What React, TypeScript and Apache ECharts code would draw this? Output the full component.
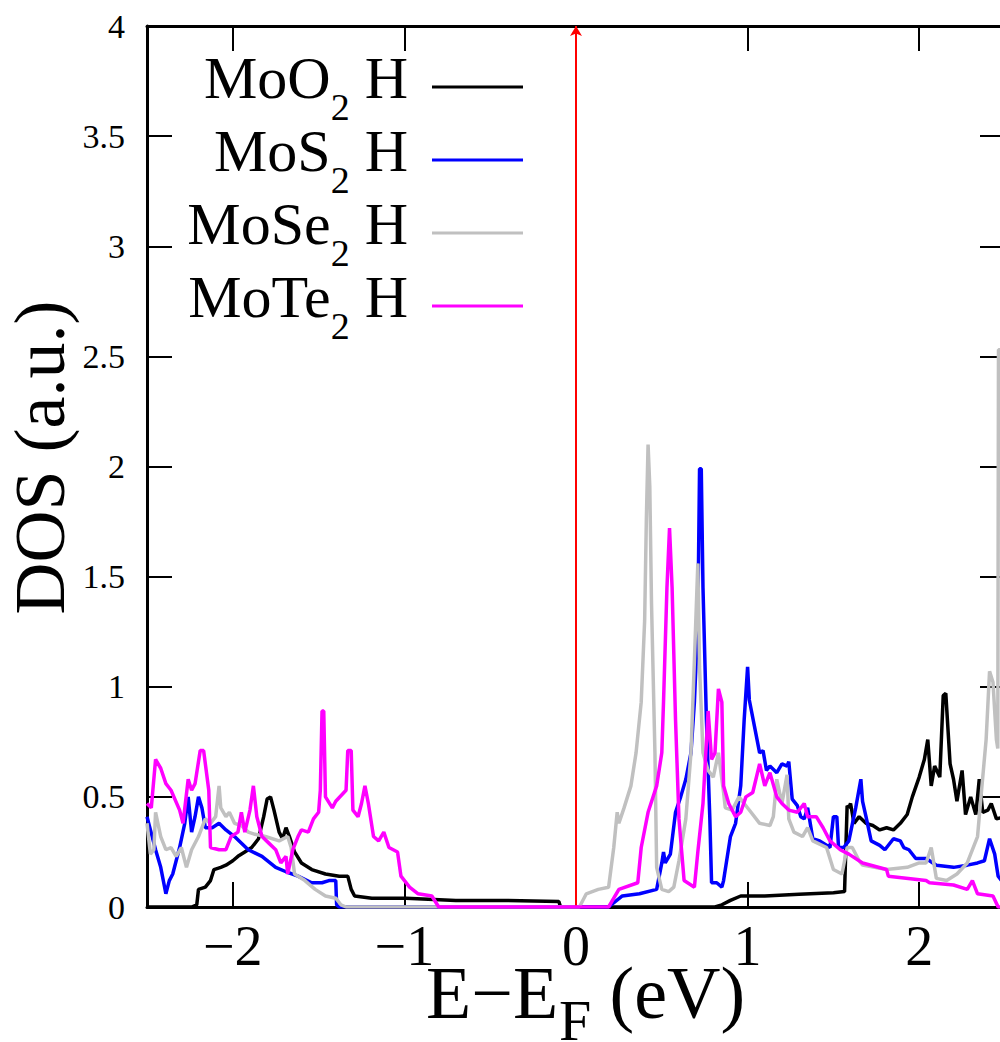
import React, { useEffect, useRef } from 'react';
import * as echarts from 'echarts';

// ---------- data ----------
const seriesNames = ['MoO2 H', 'MoS2 H', 'MoSe2 H', 'MoTe2 H'];
const legendParts = [
  ['MoO', '2', ' H'],
  ['MoS', '2', ' H'],
  ['MoSe', '2', ' H'],
  ['MoTe', '2', ' H'],
];
const seriesColors = ['#000000', '#0000ff', '#c0c0c0', '#ff00ff'];
const xTitleParts = ['E\u2212E', 'F', ' (eV)'];
const yTitle = 'DOS (a.u.)';

const xMin = -2.5;
const xMax = 2.5;
const yMin = 0;
const yMax = 4;
const yStep = 0.5;
const fermiLevel = 0;

const moO2 = [
  [-2.5, 0], [-2.24, 0], [-2.21, 0.01], [-2.2, 0.08], [-2.16, 0.09], [-2.13, 0.12], [-2.11, 0.17],
  [-2.07, 0.18], [-2.04, 0.19], [-2.0, 0.21], [-1.97, 0.23], [-1.93, 0.25], [-1.89, 0.27],
  [-1.85, 0.31], [-1.82, 0.41], [-1.8, 0.49], [-1.78, 0.5], [-1.76, 0.44], [-1.73, 0.34],
  [-1.71, 0.31], [-1.69, 0.36], [-1.67, 0.32], [-1.64, 0.25], [-1.6, 0.2], [-1.54, 0.17],
  [-1.46, 0.15], [-1.38, 0.14], [-1.33, 0.14], [-1.31, 0.08], [-1.29, 0.05], [-1.19, 0.04],
  [-0.99, 0.04], [-0.7, 0.03], [-0.4, 0.03], [-0.1, 0.025], [-0.09, 0], [0.81, 0], [0.85, 0.01],
  [0.9, 0.03], [0.96, 0.05], [1.1, 0.05], [1.3, 0.058], [1.5, 0.065], [1.565, 0.07], [1.58, 0.46],
  [1.59, 0.45], [1.6, 0.47], [1.62, 0.38], [1.65, 0.41], [1.69, 0.38], [1.73, 0.37], [1.77, 0.35],
  [1.81, 0.36], [1.85, 0.35], [1.89, 0.38], [1.93, 0.42], [1.96, 0.5], [2.0, 0.59], [2.03, 0.67],
  [2.05, 0.76], [2.07, 0.55], [2.09, 0.64], [2.12, 0.59], [2.14, 0.96], [2.155, 0.97], [2.18, 0.65],
  [2.2, 0.58], [2.22, 0.48], [2.25, 0.62], [2.27, 0.42], [2.3, 0.5], [2.33, 0.42], [2.35, 0.58],
  [2.37, 0.43], [2.4, 0.44], [2.42, 0.47], [2.45, 0.4], [2.5, 0.41],
];

const moS2 = [
  [-2.5, 0.41], [-2.48, 0.35], [-2.45, 0.26], [-2.42, 0.18], [-2.39, 0.06], [-2.37, 0.12],
  [-2.35, 0.15], [-2.31, 0.27], [-2.28, 0.38], [-2.26, 0.5], [-2.24, 0.34], [-2.22, 0.41],
  [-2.2, 0.5], [-2.18, 0.45], [-2.16, 0.36], [-2.12, 0.36], [-2.08, 0.38], [-2.04, 0.35],
  [-1.99, 0.32], [-1.91, 0.26], [-1.83, 0.23], [-1.75, 0.18], [-1.69, 0.16], [-1.62, 0.14],
  [-1.54, 0.11], [-1.48, 0.11], [-1.44, 0.12], [-1.4, 0.12], [-1.395, 0.01], [-1.38, 0],
  [0.19, 0], [0.27, 0.05], [0.37, 0.06], [0.47, 0.08], [0.5, 0.2], [0.51, 0.25], [0.52, 0.2],
  [0.55, 0.24], [0.58, 0.43], [0.61, 0.5], [0.64, 0.58], [0.67, 0.7], [0.69, 0.93], [0.71, 1.3],
  [0.72, 1.99], [0.73, 1.99], [0.74, 1.45], [0.76, 0.85], [0.78, 0.4], [0.79, 0.11], [0.82, 0.11],
  [0.85, 0.09], [0.86, 0.12], [0.9, 0.32], [0.93, 0.38], [0.96, 0.55], [0.98, 0.85], [1.0, 1.09],
  [1.01, 0.94], [1.04, 0.82], [1.07, 0.7], [1.09, 0.71], [1.11, 0.62], [1.13, 0.64], [1.17, 0.61],
  [1.2, 0.65], [1.23, 0.64], [1.24, 0.66], [1.26, 0.49], [1.29, 0.46], [1.31, 0.41], [1.33, 0.4],
  [1.35, 0.45], [1.38, 0.31], [1.42, 0.3], [1.46, 0.28], [1.48, 0.27], [1.5, 0.41], [1.52, 0.41],
  [1.53, 0.27], [1.56, 0.27], [1.59, 0.3], [1.63, 0.45], [1.66, 0.58], [1.67, 0.48], [1.69, 0.41],
  [1.72, 0.3], [1.77, 0.28], [1.8, 0.26], [1.85, 0.31], [1.89, 0.3], [1.91, 0.27], [1.94, 0.26],
  [1.98, 0.22], [2.04, 0.22], [2.1, 0.19], [2.2, 0.18], [2.28, 0.19], [2.34, 0.2], [2.38, 0.21],
  [2.41, 0.31], [2.44, 0.24], [2.46, 0.14], [2.5, 0.1],
];

const moSe2 = [
  [-2.5, 0.38], [-2.48, 0.24], [-2.46, 0.26], [-2.45, 0.43], [-2.42, 0.32], [-2.39, 0.26],
  [-2.36, 0.27], [-2.33, 0.23], [-2.3, 0.27], [-2.27, 0.18], [-2.24, 0.26], [-2.2, 0.32],
  [-2.16, 0.4], [-2.13, 0.38], [-2.1, 0.41], [-2.08, 0.55], [-2.07, 0.45], [-2.04, 0.41],
  [-2.02, 0.43], [-1.99, 0.38], [-1.95, 0.37], [-1.91, 0.34], [-1.87, 0.33], [-1.81, 0.32],
  [-1.73, 0.3], [-1.68, 0.32], [-1.66, 0.27], [-1.64, 0.15], [-1.58, 0.12], [-1.52, 0.08],
  [-1.46, 0.05], [-1.4, 0.04], [-1.37, 0.01], [-1.34, 0], [0.02, 0], [0.06, 0.06], [0.13, 0.08],
  [0.19, 0.09], [0.22, 0.27], [0.24, 0.43], [0.25, 0.38], [0.28, 0.45], [0.32, 0.55], [0.35, 0.7],
  [0.38, 0.93], [0.4, 1.3], [0.41, 1.76], [0.42, 2.1], [0.43, 1.91], [0.44, 1.38], [0.46, 0.7],
  [0.47, 0.18], [0.5, 0.08], [0.54, 0.07], [0.57, 0.09], [0.6, 0.21], [0.64, 0.4], [0.67, 0.7],
  [0.69, 1.12], [0.71, 1.56], [0.72, 1.09], [0.74, 0.7], [0.77, 0.62], [0.8, 0.59], [0.83, 0.7],
  [0.86, 0.52], [0.87, 0.45], [0.91, 0.44], [0.95, 0.5], [0.98, 0.47], [1.02, 0.43], [1.07, 0.38],
  [1.13, 0.37], [1.15, 0.41], [1.17, 0.58], [1.2, 0.47], [1.23, 0.6], [1.24, 0.4], [1.27, 0.34],
  [1.32, 0.32], [1.35, 0.36], [1.38, 0.3], [1.46, 0.27], [1.5, 0.17], [1.55, 0.15], [1.58, 0.27],
  [1.61, 0.27], [1.65, 0.21], [1.67, 0.19], [1.81, 0.17], [1.93, 0.18], [2.0, 0.2], [2.04, 0.2],
  [2.07, 0.27], [2.1, 0.13], [2.16, 0.12], [2.22, 0.15], [2.28, 0.2], [2.34, 0.32], [2.36, 0.5],
  [2.39, 0.76], [2.41, 1.07], [2.43, 1.02], [2.45, 0.76], [2.458, 0.72], [2.462, 2.53], [2.48, 2.53],
];

const moTe2 = [
  [-2.5, 0.47], [-2.475, 0.45], [-2.45, 0.67], [-2.42, 0.63], [-2.39, 0.56], [-2.36, 0.53],
  [-2.31, 0.44], [-2.29, 0.38], [-2.26, 0.58], [-2.24, 0.53], [-2.22, 0.56], [-2.19, 0.71],
  [-2.17, 0.71], [-2.14, 0.53], [-2.13, 0.27], [-2.08, 0.26], [-2.04, 0.26], [-2.01, 0.32],
  [-1.97, 0.34], [-1.95, 0.43], [-1.93, 0.34], [-1.9, 0.44], [-1.88, 0.55], [-1.86, 0.41],
  [-1.83, 0.32], [-1.79, 0.29], [-1.75, 0.26], [-1.72, 0.2], [-1.69, 0.23], [-1.68, 0.15],
  [-1.65, 0.26], [-1.62, 0.32], [-1.6, 0.35], [-1.56, 0.34], [-1.53, 0.4], [-1.5, 0.43],
  [-1.49, 0.53], [-1.48, 0.89], [-1.47, 0.89], [-1.46, 0.5], [-1.42, 0.45], [-1.4, 0.48],
  [-1.34, 0.53], [-1.33, 0.71], [-1.31, 0.71], [-1.3, 0.44], [-1.27, 0.41], [-1.25, 0.47],
  [-1.23, 0.55], [-1.21, 0.47], [-1.18, 0.32], [-1.15, 0.3], [-1.12, 0.34], [-1.09, 0.27],
  [-1.04, 0.25], [-1.02, 0.14], [-0.97, 0.09], [-0.92, 0.06], [-0.84, 0.05], [-0.8, 0],
  [0.19, 0], [0.25, 0.08], [0.36, 0.11], [0.38, 0.27], [0.42, 0.43], [0.47, 0.55], [0.5, 0.7],
  [0.51, 0.93], [0.53, 1.45], [0.545, 1.72], [0.56, 1.45], [0.58, 0.85], [0.6, 0.4], [0.63, 0.12],
  [0.69, 0.09], [0.71, 0.25], [0.74, 0.47], [0.77, 0.89], [0.79, 0.67], [0.81, 0.7], [0.83, 0.99],
  [0.85, 0.93], [0.86, 0.55], [0.89, 0.47], [0.93, 0.41], [0.96, 0.43], [0.99, 0.5], [1.03, 0.52],
  [1.07, 0.65], [1.1, 0.55], [1.13, 0.61], [1.17, 0.5], [1.2, 0.47], [1.24, 0.44], [1.29, 0.43],
  [1.33, 0.47], [1.35, 0.41], [1.4, 0.41], [1.44, 0.36], [1.48, 0.3], [1.54, 0.26], [1.59, 0.24],
  [1.67, 0.2], [1.81, 0.17], [1.82, 0.14], [2.04, 0.12], [2.06, 0.11], [2.2, 0.1], [2.28, 0.08],
  [2.31, 0.12], [2.34, 0.06], [2.43, 0.05], [2.46, 0], [2.5, 0],
];

const seriesData = [moO2, moS2, moSe2, moTe2];

const FONT = 'Liberation Serif';

export default function App() {
  const ref = useRef<HTMLDivElement>(null);

  useEffect(() => {
    if (!ref.current) return;
    const chart = echarts.init(ref.current, null, { renderer: 'svg' });

    const axisLineStyle = { color: '#000', width: 3 };
    const tickStyle = { color: '#000', width: 2 };

    const series: any[] = seriesNames.map((name, i) => ({
      name,
      type: 'line',
      data: seriesData[i],
      symbol: 'none',
      showSymbol: false,
      clip: true,
      lineStyle: { color: seriesColors[i], width: 3.5 },
      itemStyle: { color: seriesColors[i] },
      emphasis: { disabled: true },
      z: 2 + i,
    }));
    series[series.length - 1].markLine = {
      silent: true,
      symbol: ['none', 'arrow'],
      symbolSize: [9, 10],
      label: { show: false },
      lineStyle: { color: '#ff0000', width: 2, type: 'solid' },
      itemStyle: { color: '#ff0000' },
      emphasis: { disabled: true },
      data: [{ xAxis: fermiLevel }],
    };

    const xLabelFmt = (v: number) => (v < 0 ? '\u2212' + Math.abs(v) : String(v));

    // x-axis title pieces (main text, subscript, rest), placed as plain texts
    const titleText = (text: string, x: number, y: number, size: number) => ({
      type: 'text',
      x,
      y,
      silent: true,
      style: {
        text,
        fill: '#000',
        fontFamily: FONT,
        fontSize: size,
        align: 'left',
        verticalAlign: 'middle',
        textAlign: 'left',
        textVerticalAlign: 'middle',
      },
    });

    const option: any = {
      animation: false,
      backgroundColor: '#ffffff',
      grid: {
        left: 147,
        right: -5,
        top: 26,
        bottom: 135,
        containLabel: false,
        outerBoundsMode: 'none',
      },
      legend: {
        data: seriesNames,
        orient: 'vertical',
        align: 'right',
        right: 477,
        top: 30,
        padding: 0,
        icon: 'rect',
        itemWidth: 91,
        itemHeight: 3,
        itemGap: -23,
        selectedMode: false,
        formatter: (name: string) => {
          const p = legendParts[seriesNames.indexOf(name)];
          return `{a|${p[0]}}{s|${p[1]}}{a|${p[2]}}`;
        },
        textStyle: {
          color: '#000',
          fontFamily: FONT,
          fontSize: 60,
          lineHeight: 60,
          padding: [0, 19, 18, 0],
          rich: {
            a: { fontFamily: FONT, fontSize: 60, lineHeight: 60, color: '#000' },
            s: { fontFamily: FONT, fontSize: 38, lineHeight: 60, color: '#000', padding: [58, 0, 0, 0] },
          },
        },
      },
      graphic: [
        titleText(xTitleParts[0], 426, 993, 74),
        titleText(xTitleParts[1], 559, 1020, 58),
        titleText(xTitleParts[2], 591, 993, 74),
      ],
      xAxis: [
        {
          type: 'value',
          position: 'bottom',
          min: xMin,
          max: xMax,
          axisLine: { show: true, onZero: false, lineStyle: axisLineStyle },
          axisTick: { show: true, inside: true, length: 25, lineStyle: tickStyle },
          splitLine: { show: false },
          axisLabel: {
            show: true,
            margin: 11,
            showMinLabel: false,
            showMaxLabel: false,
            color: '#000',
            fontFamily: FONT,
            fontSize: 56,
            formatter: xLabelFmt,
          },
        },
        {
          type: 'value',
          position: 'top',
          min: xMin,
          max: xMax,
          axisLine: { show: true, onZero: false, lineStyle: axisLineStyle },
          axisTick: { show: true, inside: true, length: 25, lineStyle: tickStyle },
          splitLine: { show: false },
          axisLabel: { show: false },
        },
      ],
      yAxis: [
        {
          type: 'value',
          position: 'left',
          min: yMin,
          max: yMax,
          interval: yStep,
          axisLine: { show: true, onZero: false, lineStyle: axisLineStyle },
          axisTick: { show: true, inside: true, length: 25, lineStyle: tickStyle },
          splitLine: { show: false },
          axisLabel: {
            show: true,
            margin: 22,
            color: '#000',
            fontFamily: FONT,
            fontSize: 34,
          },
          name: yTitle,
          nameLocation: 'middle',
          nameGap: 77,
          nameMoveOverlap: false,
          nameTextStyle: {
            color: '#000',
            fontFamily: FONT,
            fontSize: 72,
            lineHeight: 60,
            padding: [0, 0, 0, 18],
          },
        },
        {
          type: 'value',
          position: 'right',
          min: yMin,
          max: yMax,
          interval: yStep,
          axisLine: { show: true, onZero: false, lineStyle: axisLineStyle },
          axisTick: { show: true, inside: true, length: 25, lineStyle: tickStyle },
          splitLine: { show: false },
          axisLabel: { show: false },
        },
      ],
      series,
    };

    chart.setOption(option);
    return () => {
      chart.dispose();
    };
  }, []);

  return (
    <div
      ref={ref}
      style={{ position: 'absolute', left: 0, top: 0, width: 1000, height: 1042 }}
    />
  );
}
